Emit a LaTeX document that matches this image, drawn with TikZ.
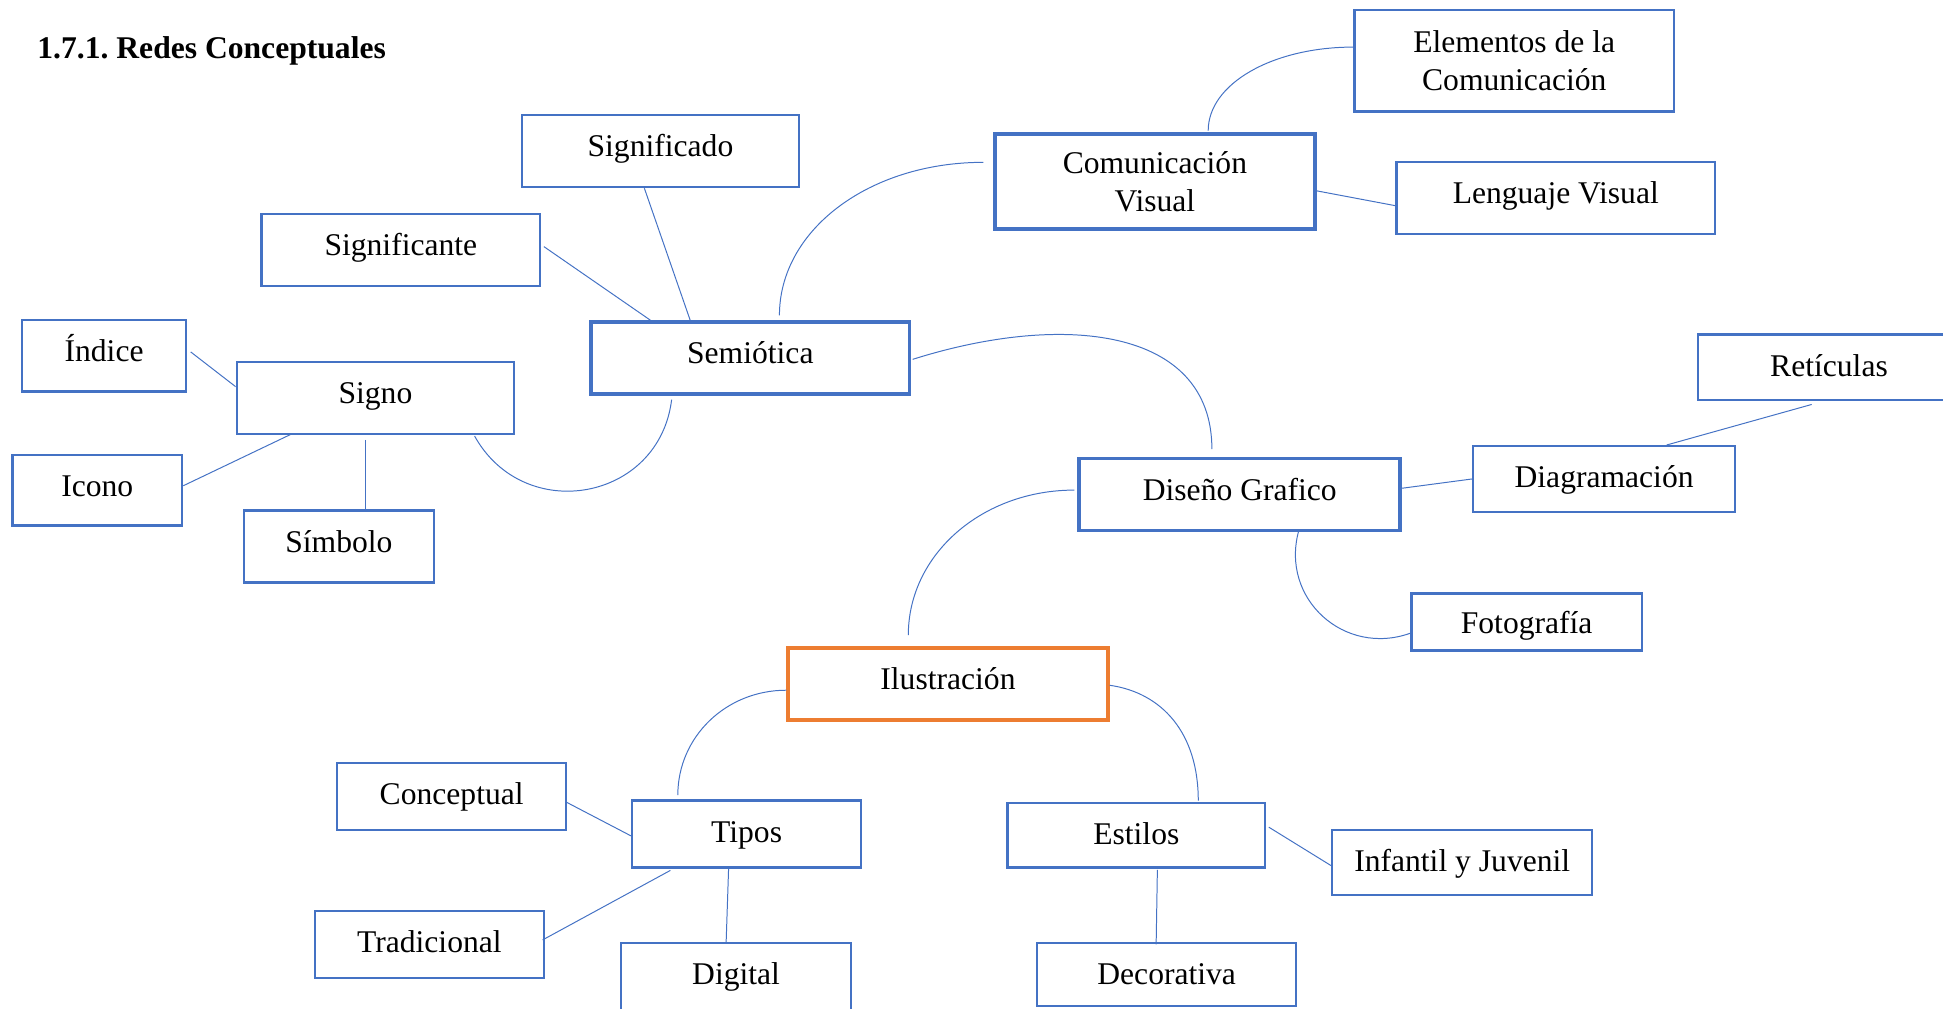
\documentclass[tikz,border=0pt]{standalone}
\usepackage{fontspec}
\setmainfont{Liberation Serif}
\usepackage{tikz}
\usetikzlibrary{calc,positioning}
\definecolor{azul}{HTML}{4472C4}
\definecolor{naranja}{HTML}{ED7D31}
\tikzset{
  base/.style={draw=azul, line width=1.8pt, rectangle, inner sep=0pt, align=center,
    font=\fontsize{25.5}{31}\selectfont},
  caja/.code={\pgfmathsetmacro\prof{max(#1-49,0)}\tikzset{base, minimum height=#1pt, text height=18pt, text depth=\prof pt}},
  doble/.style={base},
  principal/.style={line width=3pt},
  enlace/.style={draw=azul, line width=0.8pt}
}
\begin{document}
\begin{tikzpicture}[x=1pt,y=-1pt]
\useasboundingbox (0,0) rectangle (1568,814);
\clip (0,0) rectangle (1568,814);
\node[anchor=base west, inner sep=0pt, font=\bfseries\fontsize{25.5}{31}\selectfont] (titulo) at (30,47) {1.7.1.\ Redes Conceptuales};

\node[caja=58, minimum width=224pt] (significado) at (533,122) {Significado};
\node[caja=58, minimum width=225pt] (significante) at (323.5,202) {Significante};
\node[caja=58, principal, minimum width=257pt] (semiotica) at (605.5,289) {Semiótica};
\node[doble, principal, minimum width=258pt, minimum height=77pt] (comvisual) at (932,146.5) {Comunicación\\Visual};
\node[doble, minimum width=258pt, minimum height=82pt] (elementos) at (1222,49) {Elementos de la\\Comunicación};
\node[caja=58, minimum width=257pt] (lenguaje) at (1255.5,160) {Lenguaje Visual};
\node[caja=58, minimum width=132pt] (indice) at (84,287) {Índice};
\node[caja=58, minimum width=224pt] (signo) at (303,321) {Signo};
\node[caja=57, minimum width=137pt] (icono) at (78.5,395.5) {Icono};
\node[caja=58, minimum width=153pt] (simbolo) at (273.5,441) {Símbolo};
\node[caja=53, minimum width=212pt] (reticulas) at (1476,296.5) {Retículas};
\node[caja=58, principal, minimum width=259pt] (diseno) at (1000.5,399) {Diseño Grafico};
\node[caja=53, minimum width=211pt] (diagramacion) at (1294.5,386.5) {Diagramación};
\node[caja=46, minimum width=186pt] (fotografia) at (1232,502) {Fotografía};
\node[caja=58, principal, draw=naranja, minimum width=258pt] (ilustracion) at (765,552) {Ilustración};
\node[caja=54, minimum width=185pt] (conceptual) at (364.5,643) {Conceptual};
\node[caja=54, minimum width=185pt] (tipos) at (602.5,673) {Tipos};
\node[caja=54, minimum width=185pt] (tradicional) at (346.5,762) {Tradicional};
\node[caja=54, minimum width=186pt] (digital) at (594,788) {Digital};
\node[caja=52, minimum width=208pt] (estilos) at (917,674) {Estilos};
\node[caja=52, minimum width=210pt] (infantil) at (1180,696) {Infantil y Juvenil};
\node[caja=51, minimum width=209pt] (decorativa) at (941.5,786.5) {Decorativa};

% semiotica
\draw[enlace] ([shift={(-13,0)}]significado.south) -- ([shift={(-48.5,0)}]semiotica.north);
\draw[enlace] ([shift={(2,-3)}]significante.east) -- ([shift={(-80.5,0)}]semiotica.north);
\draw[enlace] ([shift={(23.5,-4)}]semiotica.north) .. controls +(0,-69) and +(-92,0) .. ([shift={(-8,-15.5)}]comvisual.west);
\draw[enlace] ([shift={(1,1)}]semiotica.east) .. controls +(120,-38) and +(0,-99) .. ([shift={(-22.5,-6)}]diseno.north);
\draw[enlace] ([shift={(-63.5,3)}]semiotica.south) .. controls +(-10,82) and +(40,72) .. ([shift={(80,1)}]signo.south);
% comunicacion
\draw[enlace] ([shift={(43,-1)}]comvisual.north) .. controls +(0,-38) and +(-65,0) .. ([shift={(0,-11)}]elementos.west);
\draw[enlace] ([shift={(0,7.5)}]comvisual.east) -- ([shift={(0,6)}]lenguaje.west);
% signo
\draw[enlace] ([shift={(3,-3)}]indice.east) -- ([shift={(0,-9)}]signo.west);
\draw[enlace] ([shift={(0,-3.5)}]icono.east) -- ([shift={(-67,-1)}]signo.south);
\draw[enlace] ([shift={(-8,4)}]signo.south) -- ([shift={(21.5,0)}]simbolo.north);
% diseno
\draw[enlace] ([shift={(0,-5)}]diseno.east) -- (diagramacion.west);
\draw[enlace] ([shift={(50.5,0)}]diagramacion.north) -- ([shift={(-14,2.5)}]reticulas.south);
\draw[enlace] ([shift={(47.5,-1)}]diseno.south) .. controls +(-15,55) and +(-53,19) .. ([shift={(0,9)}]fotografia.west);
\draw[enlace] ([shift={(-2.5,-3.5)}]diseno.west) .. controls +(-74.5,0) and +(0,-65) .. ([shift={(-32,-9)}]ilustracion.north);
% ilustracion
\draw[enlace] ([shift={(0,5)}]ilustracion.west) .. controls +(-48.6,0) and +(0,-47) .. ([shift={(-55.5,-3.5)}]tipos.north);
\draw[enlace] ([shift={(0,1)}]ilustracion.east) .. controls +(42,6) and +(0,-55) .. ([shift={(50,-1)}]estilos.north);
\draw[enlace] ([shift={(-1.5,4)}]conceptual.east) -- ([shift={(0,1.5)}]tipos.west);
\draw[enlace] ([shift={(-2,-3.5)}]tradicional.east) -- ([shift={(-61.5,1.5)}]tipos.south);
\draw[enlace] ([shift={(-14.5,-1)}]tipos.south) -- ([shift={(-8,0)}]digital.north);
\draw[enlace] ([shift={(2,-6.5)}]estilos.east) -- ([shift={(0,2.5)}]infantil.west);
\draw[enlace] ([shift={(17,1)}]estilos.south) -- ([shift={(-8.5,2)}]decorativa.north);
\end{tikzpicture}
\end{document}
